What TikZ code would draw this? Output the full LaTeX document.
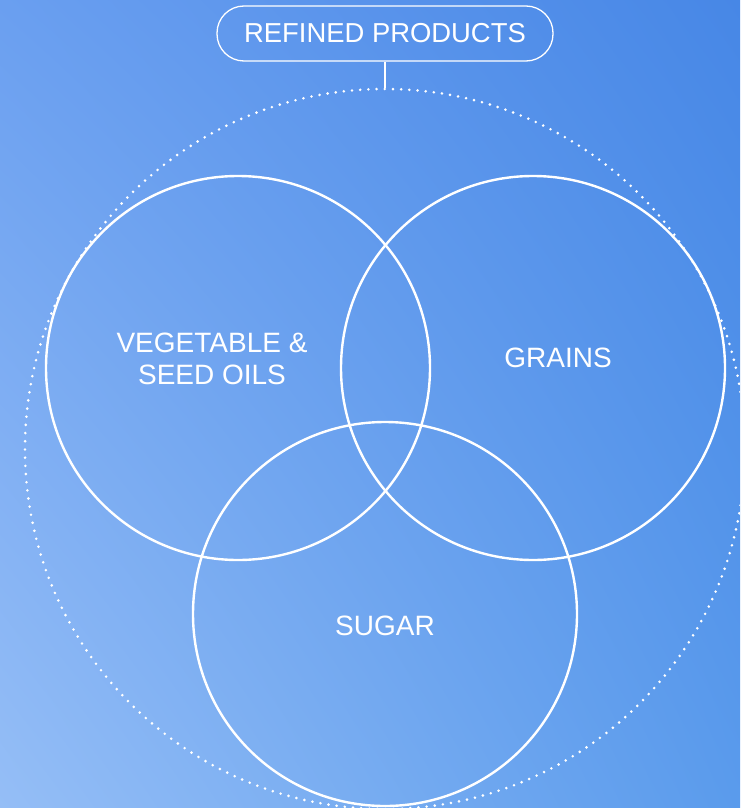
\documentclass[tikz,border=0pt]{standalone}
\usepackage{fontspec}
\setmainfont{Liberation Sans}
\usetikzlibrary{shadings}
\definecolor{bgTL}{HTML}{6A9FF0}
\definecolor{bgTR}{HTML}{4787E6}
\definecolor{bgBL}{HTML}{95BEF6}
\definecolor{bgBR}{HTML}{5A9BEC}
\begin{document}
\begin{tikzpicture}[x=1pt,y=-1pt,
  ring/.style={circle,draw=white,line width=2.4pt,minimum size=384pt,inner sep=0pt},
  lbl/.style={text=white,font=\fontsize{28}{32}\selectfont,align=center,inner sep=0pt},
  pill/.style={draw=white,line width=1.3pt,rounded corners=27pt,minimum width=336pt,minimum height=55pt,text=white,font=\fontsize{27.4}{32}\selectfont,inner sep=0pt},
  dotring/.style={circle,draw=white,line width=2.9pt,line cap=round,dash pattern=on 0pt off 8.2pt,minimum size=720pt,inner sep=0pt},
  link/.style={draw=white,line width=1.8pt}]
\useasboundingbox (0,0) rectangle (740,808);
\shade[upper left=bgTL,upper right=bgTR,lower left=bgBL,lower right=bgBR] (0,0) rectangle (740,808);
\begin{scope}
\clip (0,0) rectangle (740,808);
\node[dotring] (outer) at (385,449) {};
\end{scope}
\node[pill] (top) at (385,33.5) {REFINED PRODUCTS};
\draw[link] (top.south) -- (outer.north);
\node[ring] (veg) at (238,368) {};
\node[ring] (grains) at (533,368) {};
\node[ring] (sugar) at (385,614) {};
\node[lbl] (vegl) at (212,359) {VEGETABLE \&\\SEED OILS};
\node[lbl] (grainsl) at (558,358) {GRAINS};
\node[lbl] (sugarl) at (385,626) {SUGAR};
\end{tikzpicture}
\end{document}
